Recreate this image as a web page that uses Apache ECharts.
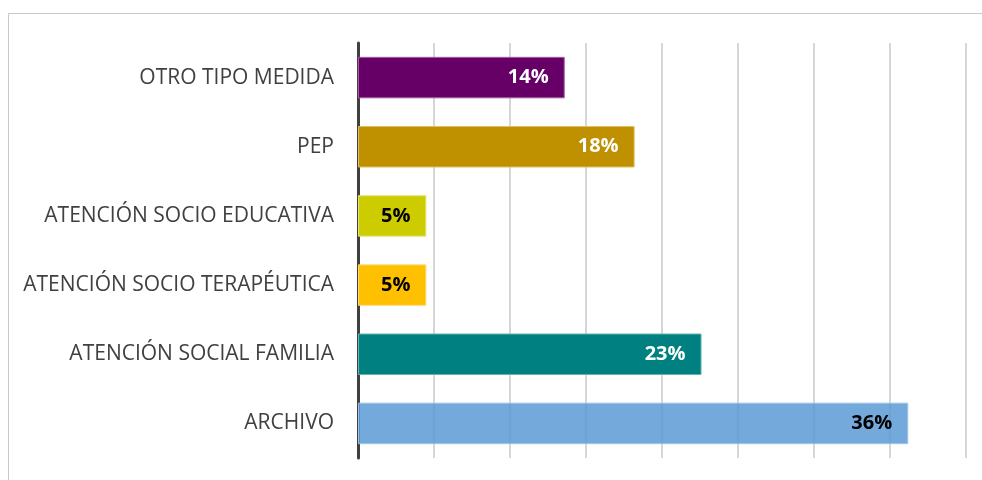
<!DOCTYPE html>
<html>
<head>
<meta charset="utf-8">
<script src="https://cdn.jsdelivr.net/npm/echarts@6/dist/echarts.min.js"></script>
<style>
  html, body { margin: 0; padding: 0; background: #fff; }
  #chart { width: 982px; height: 480px; }
</style>
</head>
<body>
<div id="chart"></div>
<script>
// categories, top to bottom
const categories = [
  'OTRO TIPO MEDIDA',
  'PEP',
  'ATENCIÓN SOCIO EDUCATIVA',
  'ATENCIÓN SOCIO TERAPÉUTICA',
  'ATENCIÓN SOCIAL FAMILIA',
  'ARCHIVO'
];
// percent values
const values = [13.6, 18.2, 4.5, 4.5, 22.6, 36.2];
const barColors = ['#660066', '#bf9000', '#cccc00', '#ffc000', '#008080', 'rgba(91,155,213,0.85)'];
const borderColors = ['#a35ca3', '#e0c060', '#e6e680', '#ffdb80', '#66b3b3', '#9cc3e8'];
const labelColors = ['#fff', '#fff', '#000', '#000', '#fff', '#000'];

const myChart = echarts.init(document.getElementById('chart'));
myChart.setOption({
  animation: false,
  grid: { left: 358, right: 16, top: 43, bottom: 22 },
  graphic: [
    {
      type: 'polyline',
      silent: true,
      shape: { points: [[8.5, 480], [8.5, 13.5], [982, 13.5]] },
      style: { stroke: '#c8c8c8', lineWidth: 1, fill: null }
    }
  ],
  xAxis: {
    type: 'value',
    min: 0,
    max: 40,
    interval: 5,
    axisLabel: { show: false },
    axisTick: { show: false },
    axisLine: { show: false },
    splitLine: { show: true, lineStyle: { color: '#c8c8c8', width: 1.5 } }
  },
  yAxis: {
    type: 'category',
    data: categories,
    inverse: true,
    axisTick: { show: false },
    axisLine: { show: true, lineStyle: { color: '#404040', width: 3 } },
    axisLabel: {
      margin: 24,
      fontFamily: 'Open Sans',
      fontSize: 21,
      color: '#404040'
    }
  },
  series: [
    {
      type: 'bar',
      barCategoryGap: '40%',
      z: 3,
      data: values.map((v, i) => ({
        value: v,
        itemStyle: { color: barColors[i], borderColor: borderColors[i], borderWidth: 1 },
        label: { color: labelColors[i] }
      })),
      label: {
        show: true,
        position: 'insideRight',
        distance: 16,
        fontFamily: 'Open Sans',
        fontWeight: 'bold',
        fontSize: 20,
        formatter: (p) => Math.round(p.value) + '%'
      }
    }
  ]
});
</script>
</body>
</html>
